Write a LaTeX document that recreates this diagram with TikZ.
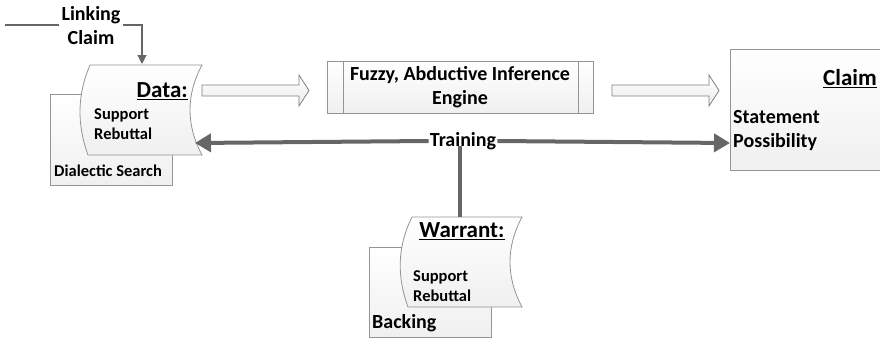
\documentclass[tikz,border=0pt]{standalone}
\usepackage{fontspec}
\setmainfont{Carlito}
\usetikzlibrary{calc,arrows.meta}

\begin{document}
\begin{tikzpicture}[x=1pt,y=-1pt,
  frame/.style={draw=black!42, line width=0.8pt},
  panel/.style={frame, top color=white, bottom color=gray!12},
  bigtxt/.style={font=\fontsize{23}{26}\selectfont\bfseries, inner sep=1pt},
  midtxt/.style={font=\fontsize{20}{24}\selectfont\bfseries, inner sep=1pt},
  smalltxt/.style={font=\fontsize{16.5}{20}\selectfont\bfseries, inner sep=1pt},
  linkline/.style={draw=black!60, line width=1.1pt},
  trainline/.style={draw=black!60, line width=4pt},
  trainarrow/.style={trainline, -{Triangle[length=16pt,width=18pt]}},
  hollow/.style={draw=black!50, line width=0.8pt, top color=white, bottom color=gray!15}
]
\useasboundingbox (0,0) rectangle (880,340);

% ---- Data block with its dialectic-search backing sheet ----
\path[panel] (50,94) rectangle (172,185);
\node[smalltxt, anchor=west] (dialectic) at (53,171) {Dialectic Search};
\path[panel] (90,65) -- (202,65) .. controls (186,95) and (186,125) .. (202,155)
  -- (88,155) .. controls (77,125) and (77,95) .. (90,65) -- cycle;
\node[bigtxt, anchor=east] (data) at (189,91) {\underline{Data:}};
\node[smalltxt, anchor=west, align=left] (datasub) at (93,124) {Support\\Rebuttal};
\coordinate (dataTop) at (142,64);
\coordinate (dataRight) at (195,143);
\coordinate (dataOut) at (202,90.5);

% ---- Inference engine (predefined-process box) ----
\path[panel] (327,61) rectangle (593,113);
\draw[frame] (343,61) -- (343,113) (578,61) -- (578,113);
\node[midtxt, align=center] (engine) at (460,87) {Fuzzy, Abductive Inference\\Engine};
\coordinate (engineIn) at (309,90.5);
\coordinate (engineOut) at (612,90.5);

% ---- Claim block ----
\path[panel] (730,49) rectangle (895,170);
\node[bigtxt] (claim) at (850,79) {\underline{Claim}};
\node[midtxt, anchor=west, align=left] (claimsub) at (732,131) {Statement\\Possibility};
\coordinate (claimIn) at (719,90.5);
\coordinate (claimLeft) at (730,143);

% ---- Warrant block with backing sheet ----
\path[panel] (369,247) rectangle (491,337);
\node[midtxt, anchor=west] (backing) at (371,323) {Backing};
\path[panel] (412,217) -- (522,217) .. controls (506,247) and (506,277) .. (522,307)
  -- (408,307) .. controls (397,277) and (397,247) .. (412,217) -- cycle;
\node[bigtxt] (warrant) at (462,231) {\underline{Warrant:}};
\node[smalltxt, anchor=west, align=left] (warrantsub) at (412,286) {Support\\Rebuttal};
\coordinate (warrantTop) at (460,217);

% ---- Linking claim feeding the data ----
\node[midtxt, align=center, inner sep=2pt] (linking) at (91,26) {Linking\\Claim};
\coordinate (linkStart) at (5,25);
\draw[linkline] (linkStart) -- (linking.west |- linkStart);
\draw[linkline, -{Triangle[length=9pt,width=9pt]}]
  (linking.east |- linkStart) -| (dataTop);

% ---- Hollow flow arrows ----
\newcommand\hollowarrow[2]{%
  \path[hollow] ($(#1)+(0,-5.5)$) -- ($(#2)+(-10,-5.5)$) -- ($(#2)+(-10,-15.5)$) -- (#2)
    -- ($(#2)+(-10,15.5)$) -- ($(#2)+(-10,5.5)$) -- ($(#1)+(0,5.5)$) -- cycle;}
\hollowarrow{dataOut}{engineIn}
\hollowarrow{engineOut}{claimIn}

% ---- Training links ----
\node[midtxt, inner sep=1pt] (training) at (463,141) {Training};
\draw[trainarrow] (training.west) -- (dataRight);
\draw[trainarrow] (training.east) -- (claimLeft);
\coordinate (stemTop) at (460,146);
\draw[trainline] (stemTop) -- (warrantTop);
\end{tikzpicture}
\end{document}
